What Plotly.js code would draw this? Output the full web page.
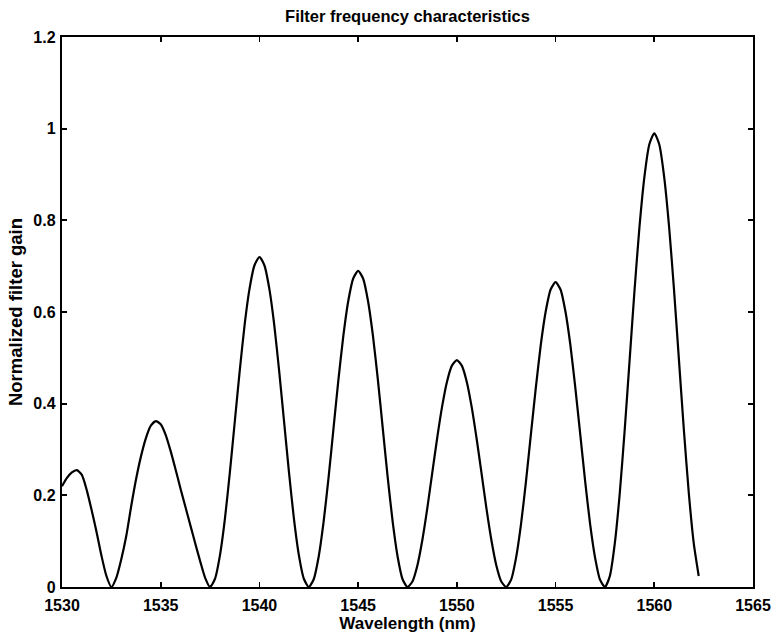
<!DOCTYPE html>
<html>
<head>
<meta charset="utf-8">
<script src="https://cdn.plot.ly/plotly-3.0.1.min.js"></script>
<style>body{margin:0;padding:0;background:#fff;}#chart{width:776px;height:638px;}</style>
</head>
<body>
<div id="chart"></div>
<script>
const wavelength = [
1530,1530.25,1530.5,1530.75,1531,1531.25,1531.5,1531.75,1532,1532.25,
1532.5,1532.75,1533,1533.25,1533.5,1533.75,1534,1534.25,1534.5,1534.75,
1535,1535.25,1535.5,1535.75,1536,1536.25,1536.5,1536.75,1537,1537.25,
1537.5,1537.75,1538,1538.25,1538.5,1538.75,1539,1539.25,1539.5,1539.75,
1540,1540.25,1540.5,1540.75,1541,1541.25,1541.5,1541.75,1542,1542.25,
1542.5,1542.75,1543,1543.25,1543.5,1543.75,1544,1544.25,1544.5,1544.75,
1545,1545.25,1545.5,1545.75,1546,1546.25,1546.5,1546.75,1547,1547.25,
1547.5,1547.75,1548,1548.25,1548.5,1548.75,1549,1549.25,1549.5,1549.75,
1550,1550.25,1550.5,1550.75,1551,1551.25,1551.5,1551.75,1552,1552.25,
1552.5,1552.75,1553,1553.25,1553.5,1553.75,1554,1554.25,1554.5,1554.75,
1555,1555.25,1555.5,1555.75,1556,1556.25,1556.5,1556.75,1557,1557.25,
1557.5,1557.75,1558,1558.25,1558.5,1558.75,1559,1559.25,1559.5,1559.75,
1560,1560.25,1560.5,1560.75,1561,1561.25,1561.5,1561.75,1562,1562.25
];
const gain = [
0.22,0.238,0.25,0.255,0.245,0.212,0.168,0.12,0.068,0.024,
0.0,0.02,0.06,0.11,0.175,0.235,0.285,0.325,0.352,0.362,
0.355,0.332,0.297,0.257,0.215,0.175,0.135,0.095,0.056,0.02,
0.0,0.018,0.069,0.148,0.249,0.36,0.471,0.572,0.651,0.702,
0.72,0.702,0.651,0.572,0.471,0.36,0.249,0.148,0.069,0.018,
0.0,0.017,0.066,0.142,0.238,0.345,0.452,0.548,0.624,0.673,
0.69,0.673,0.624,0.548,0.452,0.345,0.238,0.142,0.066,0.017,
0.0,0.012,0.047,0.102,0.171,0.248,0.324,0.393,0.448,0.483,
0.495,0.483,0.448,0.393,0.324,0.248,0.171,0.102,0.047,0.012,
0.0,0.016,0.064,0.137,0.23,0.333,0.435,0.528,0.601,0.649,
0.665,0.649,0.601,0.528,0.435,0.333,0.23,0.137,0.064,0.016,
0.0,0.024,0.095,0.204,0.342,0.495,0.648,0.786,0.895,0.966,
0.99,0.966,0.895,0.786,0.648,0.495,0.342,0.204,0.095,0.024
];
const xTicks = [1530,1535,1540,1545,1550,1555,1560,1565];
const yTicks = [0,0.2,0.4,0.6,0.8,1,1.2];
const yTickText = ['0','0.2','0.4','0.6','0.8','1','1.2'];

const fam = '"Liberation Sans", Arial, Helvetica, sans-serif';

Plotly.newPlot('chart', [{
  x: wavelength, y: gain, type: 'scatter', mode: 'lines',
  line: {color: '#000', width: 2.2, shape: 'spline', smoothing: 0.6},
  hoverinfo: 'skip'
}], {
  width: 776, height: 638,
  margin: {l: 62, r: 23, t: 37, b: 51},
  paper_bgcolor: '#fff', plot_bgcolor: '#fff',
  showlegend: false,
  font: {family: fam, color: '#000', size: 16, weight: 'bold'},
  title: {text: 'Filter frequency characteristics', x: 0.5, xref: 'paper', xanchor: 'center', y: 1 - 16/638, yref: 'container', yanchor: 'middle', font: {family: fam, size: 16.5, color: '#000', weight: 'bold'}},
  xaxis: {
    range: [1530, 1565], tickvals: xTicks, ticktext: xTicks.map(String),
    ticks: 'inside', ticklen: 5, tickwidth: 1.8, tickcolor: '#000', mirror: 'allticks',
    showline: true, linecolor: '#000', linewidth: 2.2, showgrid: false, zeroline: false,
    ticklabelstandoff: 3,
    tickfont: {family: fam, size: 16, color: '#000', weight: 'bold'},
    title: {text: 'Wavelength (nm)', standoff: 2, font: {family: fam, size: 17, color: '#000', weight: 'bold'}}
  },
  yaxis: {
    range: [0, 1.2], tickvals: yTicks, ticktext: yTickText,
    ticks: 'inside', ticklen: 5, tickwidth: 1.8, tickcolor: '#000', mirror: 'allticks',
    showline: true, linecolor: '#000', linewidth: 2.2, showgrid: false, zeroline: false,
    ticklabelstandoff: 1,
    tickfont: {family: fam, size: 16, color: '#000', weight: 'bold'},
    title: {text: 'Normalized filter gain', standoff: 6, font: {family: fam, size: 18.5, color: '#000', weight: 'bold'}}
  }
}, {staticPlot: true, displayModeBar: false});
</script>
</body>
</html>
